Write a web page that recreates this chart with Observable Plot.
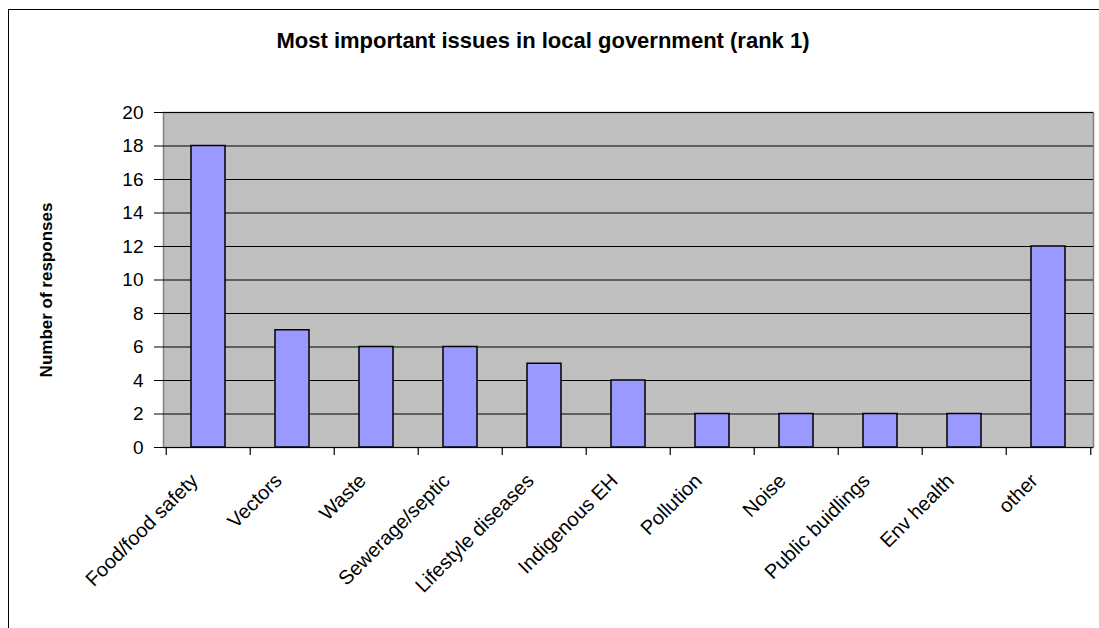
<!DOCTYPE html>
<html>
<head>
<meta charset="utf-8">
<script src="https://cdn.jsdelivr.net/npm/d3@7"></script>
<script src="https://cdn.jsdelivr.net/npm/@observablehq/plot@0.6"></script>
<style>
  html, body { margin: 0; padding: 0; background: #fff; }
  #wrap { position: relative; width: 1099px; height: 628px; overflow: hidden; font-family: "Liberation Sans", Arial, sans-serif; }
  #border { position: absolute; left: 8px; top: 9px; width: 1200px; height: 700px; border: 1px solid #000; box-sizing: border-box; }
  #title { position: absolute; left: 0; top: 28px; width: 1086px; text-align: center; font-weight: bold; font-size: 22px; color: #000; }
  #chart { position: absolute; left: 0; top: 0; }
  #chart svg text { fill: #000; }
</style>
</head>
<body>
<div id="wrap">
  <div id="border"></div>
  <div id="chart"></div>
  <div id="title">Most important issues in local government (rank 1)</div>
</div>
<script>
const categories = ["Food/food safety", "Vectors", "Waste", "Sewerage/septic", "Lifestyle diseases", "Indigenous EH", "Pollution", "Noise", "Public buidlings", "Env health", "other"];
const responses = [18, 7, 6, 6, 5, 4, 2, 2, 2, 2, 12];
const yTicks = [0, 2, 4, 6, 8, 10, 12, 14, 16, 18, 20];
const yLabel = ["Number of responses"];

const data = categories.map((c, i) => ({category: c, value: responses[i]}));

const W = 1099, H = 628;
const mL = 163, mR = 6, mT = 112, mB = 181;
const bw = (W - mL - mR) / categories.length;

const chart = Plot.plot({
  width: W,
  height: H,
  marginLeft: mL,
  marginRight: mR,
  marginTop: mT,
  marginBottom: mB,
  style: {fontFamily: "'Liberation Sans', Arial, sans-serif", fontSize: "19px", background: "transparent", color: "#000"},
  x: {domain: categories, paddingInner: 0.6, paddingOuter: 0.3, align: 0.5},
  y: {domain: [0, 20], ticks: yTicks},
  marks: [
    Plot.frame({fill: "#C0C0C0", stroke: "#808080", strokeWidth: 1.5}),
    Plot.gridY(yTicks, {stroke: "#000", strokeOpacity: 1, strokeWidth: 1}),
    Plot.barY(data, {x: "category", y: "value", fill: "#9999FF", stroke: "#000", strokeWidth: 1.5}),
    Plot.ruleX(categories, {x: d => d, dx: -bw / 2, y1: 0, y2: 0, insetBottom: -8, stroke: "#000", strokeWidth: 1.2}),
    Plot.ruleX(categories.slice(-1), {x: d => d, dx: bw / 2, y1: 0, y2: 0, insetBottom: -8, stroke: "#000", strokeWidth: 1.2}),
    Plot.ruleX([0], {frameAnchor: "left", y1: 0, y2: 20, stroke: "#000", strokeWidth: 1.5}),
    Plot.axisY({ticks: yTicks, tickSize: 9, tickPadding: 11, fontSize: 19, label: null, stroke: "#000"}),
    Plot.text(yLabel, {text: d => d, frameAnchor: "left", textAnchor: "middle", lineAnchor: "middle", rotate: -90, dx: -117, dy: 10, fontWeight: "bold", fontSize: 17, fill: "#000"}),
    Plot.axisX({tickSize: 0, tickRotate: -45, tickPadding: 30, dx: -14, fontSize: 20, label: null})
  ]
});
document.getElementById("chart").appendChild(chart);
</script>
</body>
</html>
